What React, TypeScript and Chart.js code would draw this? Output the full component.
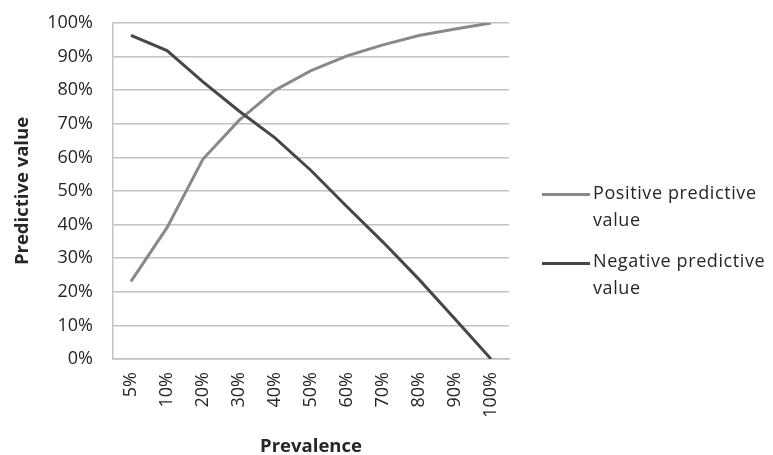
import React, { useEffect, useRef } from "react";
import { Chart, registerables } from "chart.js";

Chart.register(...registerables);

// ---- data ----
const categories = ["5%", "10%", "20%", "30%", "40%", "50%", "60%", "70%", "80%", "90%", "100%"];
const positivePredictive = [0.231, 0.391, 0.595, 0.71, 0.8, 0.858, 0.902, 0.935, 0.963, 0.982, 1.0];
const negativePredictive = [0.963, 0.918, 0.825, 0.738, 0.658, 0.561, 0.453, 0.348, 0.237, 0.119, 0.0];
const seriesNames = ["Positive predictive value", "Negative predictive value"];
const legendLines = [["Positive predictive", "value"], ["Negative predictive", "value"]];
const xTitle = "Prevalence";
const yTitle = "Predictive value";

const FONT = "'Open Sans', 'Noto Sans', sans-serif";
const PPV_COLOR = "#898989";
const NPV_COLOR = "#474747";
const GRID_COLOR = "#c2c2c2";
const TEXT_COLOR = "#262626";

export default function App() {
  const canvasRef = useRef<HTMLCanvasElement | null>(null);

  useEffect(() => {
    const canvas = canvasRef.current;
    if (!canvas) return;
    const chart = new Chart(canvas, {
      type: "line",
      data: {
        labels: categories,
        datasets: [
          {
            label: seriesNames[0],
            data: positivePredictive,
            borderColor: PPV_COLOR,
            backgroundColor: PPV_COLOR,
            borderWidth: 3,
            pointRadius: 0,
            tension: 0,
            order: 1,
          },
          {
            label: seriesNames[1],
            data: negativePredictive,
            borderColor: NPV_COLOR,
            backgroundColor: NPV_COLOR,
            borderWidth: 3,
            pointRadius: 0,
            tension: 0,
            order: 0,
          },
        ],
      },
      options: {
        responsive: false,
        animation: false,
        layout: { padding: { left: 0, right: 264, top: 23, bottom: 0 } },
        plugins: {
          legend: { display: false },
          tooltip: { enabled: false },
        },
        scales: {
          x: {
            offset: true,
            grid: { display: false, drawTicks: false },
            border: { display: true, color: GRID_COLOR, width: 1.5 },
            ticks: {
              minRotation: 90,
              maxRotation: 90,
              padding: 13,
              color: TEXT_COLOR,
              font: { family: FONT, size: 18 },
            },
            title: {
              display: true,
              text: xTitle,
              color: TEXT_COLOR,
              font: { family: FONT, size: 18.5, weight: "bold" },
              padding: { top: 0, bottom: -3 },
            },
            afterFit: (scale: any) => {
              scale.height = 96;
              scale.paddingLeft = 0;
              scale.paddingRight = 0;
              scale.paddingTop = 0;
              scale.paddingBottom = 0;
            },
          },
          y: {
            min: 0,
            max: 1,
            grid: { color: GRID_COLOR, lineWidth: 1.5, drawTicks: false },
            border: { display: true, color: GRID_COLOR, width: 1.5 },
            ticks: {
              stepSize: 0.1,
              padding: 20,
              color: TEXT_COLOR,
              font: { family: FONT, size: 18 },
              callback: (v: any) => Math.round(Number(v) * 100) + "%",
            },
            title: {
              display: true,
              text: yTitle,
              color: TEXT_COLOR,
              font: { family: FONT, size: 18.5, weight: "bold" },
              padding: { top: 12, bottom: 0 },
            },
            afterFit: (scale: any) => {
              scale.width = 113;
              scale.paddingTop = 0;
              scale.paddingBottom = 0;
              scale.paddingLeft = 0;
              scale.paddingRight = 0;
            },
          },
        },
      },
    });
    return () => chart.destroy();
  }, []);

  const colors = [PPV_COLOR, NPV_COLOR];
  const tops = [178.5, 247];

  return (
    <div style={{ position: "fixed", left: 0, top: 0, width: 773, height: 455, background: "#fff", overflow: "hidden" }}>
      <canvas ref={canvasRef} width={773} height={455} style={{ position: "absolute", left: 0, top: 0 }} />
      {legendLines.map((lines, i) => (
        <div
          key={i}
          style={{
            position: "absolute",
            left: 542,
            top: tops[i],
            display: "flex",
            alignItems: "flex-start",
            fontFamily: FONT,
            fontSize: 18,
            lineHeight: "27.4px",
            letterSpacing: "0.6px",
            color: TEXT_COLOR,
          }}
        >
          <span
            style={{
              display: "inline-block",
              width: 48,
              height: 3,
              background: colors[i],
              marginTop: 14.5,
              marginRight: 3,
              flex: "none",
            }}
          />
          <span>
            {lines.map((l, j) => (
              <div key={j}>{l}</div>
            ))}
          </span>
        </div>
      ))}
    </div>
  );
}
